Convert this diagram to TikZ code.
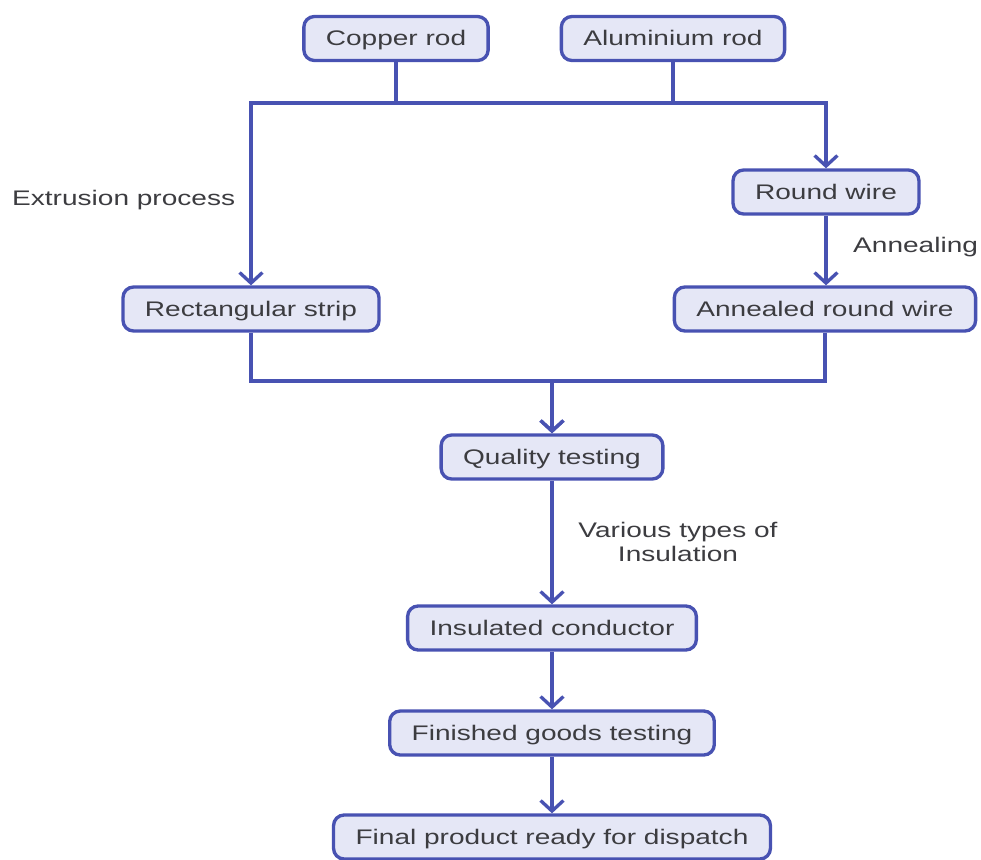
\documentclass[tikz,border=0pt]{standalone}
\usepackage{fontspec}
\setmainfont{Liberation Sans}[FakeStretch=1.33]
\usetikzlibrary{arrows.meta}
\definecolor{flowBlue}{RGB}{72,82,178}
\definecolor{flowFill}{RGB}{229,231,246}
\definecolor{flowText}{RGB}{60,60,64}
\begin{document}
\begin{tikzpicture}[
    wireFlowBox/.style={draw=flowBlue, fill=flowFill, line width=1.9pt,
        rounded corners=6pt, inner xsep=0.44cm, minimum height=0.88cm,
        text height=9pt, text depth=1pt,
        text=flowText, font=\fontsize{12}{14}\selectfont},
    wireFlowLabel/.style={text=flowText, font=\fontsize{12}{13.5}\selectfont},
    wireFlowLine/.style={draw=flowBlue, line width=1.9pt},
    wireFlowArrow/.style={wireFlowLine, -{Straight Barb[length=6pt, width=13pt, line width=1.9pt]}}
]
    \useasboundingbox (0,0) rectangle (19.62,-17.2);

    % rods
    \node[wireFlowBox] (copperRod) at (7.92,-0.77) {Copper rod};
    \node[wireFlowBox] (aluRod) at (13.46,-0.77) {Aluminium rod};

    % two branches
    \node[wireFlowBox] (roundWire) at (16.52,-3.84) {Round wire};
    \node[wireFlowBox] (annealedWire) at (16.5,-6.18) {Annealed round wire};
    \node[wireFlowBox] (rectStrip) at (5.02,-6.18) {Rectangular strip};

    % main line
    \node[wireFlowBox] (qualityTest) at (11.04,-9.14) {Quality testing};
    \node[wireFlowBox] (insulatedCond) at (11.04,-12.56) {Insulated conductor};
    \node[wireFlowBox] (finishedTest) at (11.04,-14.66) {Finished goods testing};
    \node[wireFlowBox] (finalProduct) at (11.04,-16.74) {Final product ready for dispatch};

    % process labels
    \node[wireFlowLabel, anchor=west] (extrusionLbl) at (0.12,-4.0) {Extrusion process};
    \node[wireFlowLabel, anchor=west] (annealingLbl) at (16.94,-4.94) {Annealing};
    \node[wireFlowLabel, align=center] (insulationLbl) at (13.56,-10.84) {Various types of\\Insulation};

    % junctions
    \coordinate (topJoin) at (0,-2.06);
    \coordinate (bottomJoin) at (0,-7.62);

    % upper split
    \draw[wireFlowLine] (copperRod.south |- topJoin) -- (aluRod.south |- topJoin);
    \draw[wireFlowArrow] (copperRod.south) -- (copperRod.south |- topJoin) -| (rectStrip.north);
    \draw[wireFlowArrow] (aluRod.south) -- (aluRod.south |- topJoin) -| (roundWire.north);
    \draw[wireFlowArrow] (roundWire) -- (annealedWire.north -| roundWire);

    % lower merge
    \draw[wireFlowArrow] (rectStrip.south) -- (rectStrip.south |- bottomJoin) -| (qualityTest.north);
    \draw[wireFlowArrow] (annealedWire.south) -- (annealedWire.south |- bottomJoin) -| (qualityTest.north);

    % down to dispatch
    \draw[wireFlowArrow] (qualityTest) -- (insulatedCond);
    \draw[wireFlowArrow] (insulatedCond) -- (finishedTest);
    \draw[wireFlowArrow] (finishedTest) -- (finalProduct);
\end{tikzpicture}
\end{document}
